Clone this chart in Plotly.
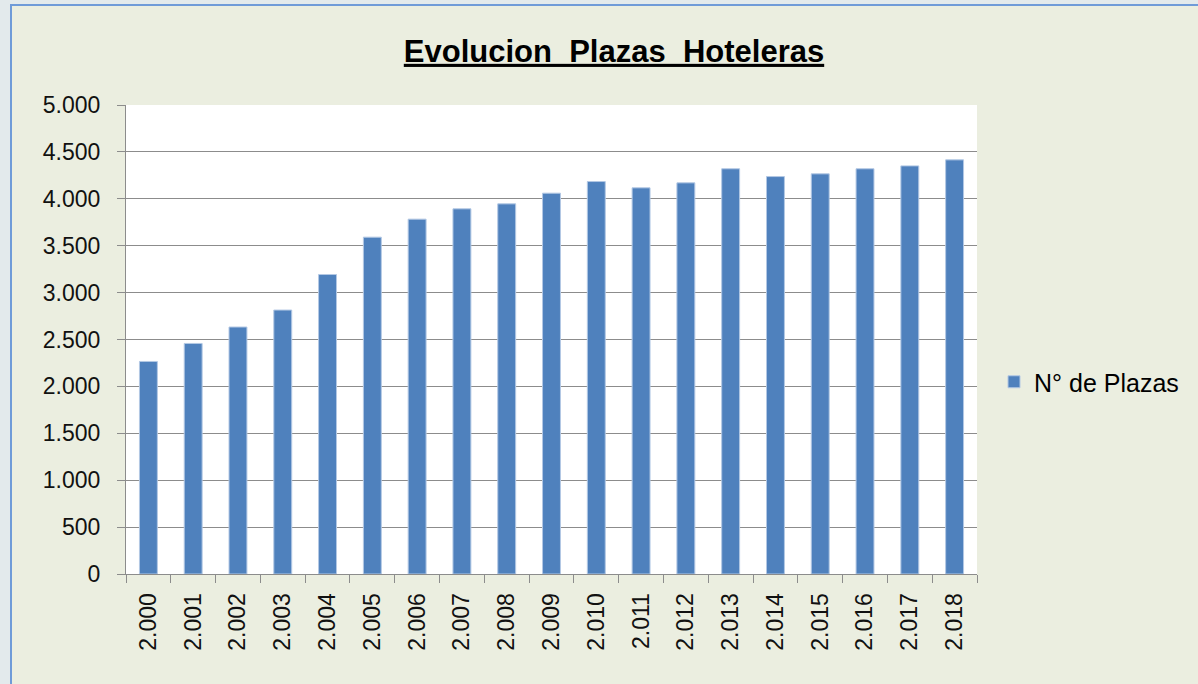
import plotly.graph_objects as go

# Data
years = ["2.000", "2.001", "2.002", "2.003", "2.004", "2.005", "2.006", "2.007", "2.008", "2.009",
         "2.010", "2.011", "2.012", "2.013", "2.014", "2.015", "2.016", "2.017", "2.018"]
plazas = [2266, 2458, 2633, 2814, 3193, 3591, 3783, 3893, 3946, 4060,
          4184, 4117, 4170, 4320, 4237, 4266, 4320, 4351, 4415]
series_name = "N° de Plazas"
title_text = "Evolucion\u00a0 Plazas\u00a0 Hoteleras"
y_ticks = [0, 500, 1000, 1500, 2000, 2500, 3000, 3500, 4000, 4500, 5000]

W, H = 1198, 684
L, R, T, B = 126, 221, 105, 110
pw, ph = W - L - R, H - T - B

def px_to_paper_x(px):
    return (px - L) / pw

def px_to_paper_y(py):
    return (H - B - py) / ph

fig = go.Figure()
fig.add_trace(go.Bar(
    x=years, y=plazas, name=series_name,
    marker=dict(color="#4f81bd", line=dict(color="#b3c8e4", width=1)),
    showlegend=True,
))

shapes = [
    # chart area panel with blue border
    dict(type="rect", xref="paper", yref="paper", layer="below",
         x0=px_to_paper_x(11), x1=px_to_paper_x(1210),
         y0=px_to_paper_y(700), y1=px_to_paper_y(5),
         fillcolor="#ebeee0", line=dict(color="#6f9bd8", width=2)),
    # white plot area
    dict(type="rect", xref="paper", yref="paper", layer="below",
         x0=0, x1=1, y0=0, y1=1, fillcolor="#ffffff", line=dict(width=0)),
]

fig.update_layout(
    width=W, height=H, autosize=False,
    margin=dict(l=L, r=R, t=T, b=B, pad=0),
    paper_bgcolor="#e3eaec",
    plot_bgcolor="#ffffff",
    separators=",.",
    bargap=0.6,
    shapes=shapes,
    title=dict(
        text="<u><b>" + title_text + "</b></u>",
        font=dict(family="Liberation Sans", size=31, color="#000000"),
        x=614 / W, xref="container", xanchor="center",
        y=1 - 51 / H, yref="container", yanchor="middle",
    ),
    legend=dict(
        x=px_to_paper_x(994), xanchor="left",
        y=px_to_paper_y(382), yanchor="middle",
        font=dict(family="Liberation Sans", size=25, color="#000000"),
        bgcolor="rgba(0,0,0,0)",
    ),
    xaxis=dict(
        type="category", categoryorder="array", categoryarray=years,
        tickangle=-90,
        tickfont=dict(family="Liberation Sans", size=23, color="#111111"),
        ticks="outside", tickson="boundaries", ticklen=8, tickcolor="#8c8c8c",
        showline=True, linecolor="#8c8c8c", linewidth=1,
        showgrid=False, ticklabelstandoff=9,
    ),
    yaxis=dict(
        range=[0, 5000], tickvals=y_ticks, tickformat=",d",
        tickfont=dict(family="Liberation Sans", size=23, color="#111111"),
        ticks="outside", ticklen=8, tickcolor="#8c8c8c",
        showline=True, linecolor="#8c8c8c", linewidth=1,
        showgrid=True, gridcolor="#8c8c8c", gridwidth=1,
        zeroline=False, ticklabelstandoff=12,
    ),
)

fig.write_html("out.html", config={"displayModeBar": False},
               post_script="document.body.style.margin='0';")
